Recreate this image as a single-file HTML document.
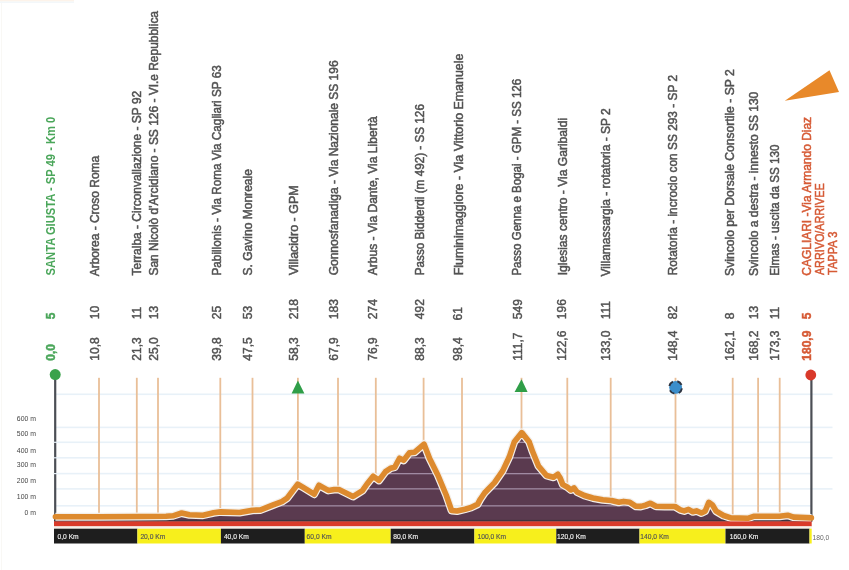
<!DOCTYPE html>
<html><head><meta charset="utf-8"><style>
html,body{margin:0;padding:0;background:#fff;}
body{width:849px;height:570px;overflow:hidden;}
svg{display:block;filter:blur(0.45px);}
text{font-family:"Liberation Sans", sans-serif;}
</style></head><body>
<svg width="849" height="570" viewBox="0 0 849 570">
<defs><clipPath id="fc"><path d="M55.4,516.8 L100.0,516.7 L140.0,516.5 L166.0,516.2 L173.0,515.8 L181.6,513.0 L189.5,514.8 L203.0,515.2 L213.6,512.8 L220.6,511.9 L239.5,512.5 L252.4,510.2 L260.7,509.9 L272.5,505.2 L281.9,501.6 L287.1,498.2 L291.8,491.8 L297.7,484.1 L303.6,487.7 L314.2,494.2 L318.9,485.3 L328.3,490.4 L334.2,489.5 L338.9,489.5 L346.0,493.0 L353.0,496.5 L362.4,490.6 L367.0,484.0 L373.2,476.2 L379.0,480.4 L385.5,471.6 L390.5,468.2 L394.7,467.2 L399.5,458.2 L403.7,460.3 L409.5,452.8 L414.7,452.2 L420.3,447.3 L424.0,444.1 L429.5,458.3 L437.8,475.0 L446.2,495.0 L451.6,510.5 L457.0,511.0 L465.0,509.2 L471.0,507.5 L477.5,504.3 L480.3,499.2 L484.7,492.7 L494.5,482.6 L502.8,470.6 L509.3,456.8 L514.2,442.1 L521.8,432.6 L529.3,442.1 L532.5,451.3 L538.5,466.0 L546.5,475.5 L553.5,477.3 L557.8,474.2 L560.2,478.0 L562.8,484.6 L567.2,487.0 L570.9,490.0 L574.0,487.9 L577.0,491.9 L584.4,495.5 L593.0,498.0 L602.8,499.8 L611.4,500.5 L618.8,502.3 L623.7,501.4 L629.9,502.3 L636.0,506.3 L640.9,506.4 L645.5,505.2 L650.4,503.2 L656.0,506.3 L664.6,506.5 L675.0,506.5 L680.5,509.9 L684.2,510.9 L688.5,509.3 L692.8,511.8 L696.5,510.9 L701.4,513.0 L705.1,511.2 L708.8,502.3 L712.5,505.0 L716.2,511.2 L723.5,515.5 L730.9,517.9 L747.7,518.3 L753.6,516.3 L765.3,516.3 L779.5,516.3 L787.7,515.2 L793.6,517.1 L811.4,517.9 L811.4,521.6 L55.4,521.6 Z"/></clipPath></defs>
<rect x="1" y="0" width="1" height="570" fill="#f9f8f5"/><rect x="0" y="0" width="74" height="1.5" fill="#fdf3ea"/><rect x="0" y="1.5" width="74" height="1.5" fill="#f3f7fa"/>

<rect x="56" y="393.5" width="776.5" height="1.6" fill="#e8f1f8"/>
<rect x="56" y="426.6" width="776.5" height="1.6" fill="#e8f1f8"/>
<rect x="56" y="441.5" width="756.0" height="1.6" fill="#e8f1f8"/>
<rect x="56" y="457.0" width="776.5" height="1.6" fill="#e8f1f8"/>
<rect x="56" y="472.8" width="756.0" height="1.6" fill="#e8f1f8"/>
<rect x="56" y="488.1" width="776.5" height="1.6" fill="#e8f1f8"/>
<rect x="56" y="505.0" width="756.0" height="1.6" fill="#e8f1f8"/>
<rect x="98.1" y="377.8" width="1.8" height="143.8" fill="#e9bf98"/>
<rect x="135.9" y="377.8" width="1.8" height="143.8" fill="#e9bf98"/>
<rect x="157.1" y="377.8" width="1.8" height="143.8" fill="#e9bf98"/>
<rect x="219.4" y="377.8" width="1.8" height="143.8" fill="#e9bf98"/>
<rect x="251.6" y="377.8" width="1.8" height="143.8" fill="#e9bf98"/>
<rect x="297.0" y="377.8" width="1.8" height="143.8" fill="#e9bf98"/>
<rect x="337.1" y="377.8" width="1.8" height="143.8" fill="#e9bf98"/>
<rect x="374.9" y="377.8" width="1.8" height="143.8" fill="#e9bf98"/>
<rect x="422.7" y="377.8" width="1.8" height="143.8" fill="#e9bf98"/>
<rect x="461.1" y="377.8" width="1.8" height="143.8" fill="#e9bf98"/>
<rect x="520.6" y="377.8" width="1.8" height="143.8" fill="#e9bf98"/>
<rect x="566.4" y="377.8" width="1.8" height="143.8" fill="#e9bf98"/>
<rect x="609.8" y="377.8" width="1.8" height="143.8" fill="#e9bf98"/>
<rect x="674.6" y="377.8" width="1.8" height="143.8" fill="#e9bf98"/>
<rect x="731.8" y="377.8" width="1.8" height="143.8" fill="#e9bf98"/>
<rect x="757.2" y="377.8" width="1.8" height="143.8" fill="#e9bf98"/>
<rect x="778.8" y="377.8" width="1.8" height="143.8" fill="#e9bf98"/>
<rect x="54.1" y="376" width="2.2" height="145.6" fill="#4b4e55"/>
<rect x="810.3" y="376" width="2.2" height="145.6" fill="#4b4e55"/>
<rect x="53.5" y="441.7" width="3.5" height="1.2" fill="#e8f1f8"/>
<rect x="53.5" y="457.2" width="3.5" height="1.2" fill="#e8f1f8"/>
<rect x="53.5" y="473.0" width="3.5" height="1.2" fill="#e8f1f8"/>
<path d="M55.4,516.8 L100.0,516.7 L140.0,516.5 L166.0,516.2 L173.0,515.8 L181.6,513.0 L189.5,514.8 L203.0,515.2 L213.6,512.8 L220.6,511.9 L239.5,512.5 L252.4,510.2 L260.7,509.9 L272.5,505.2 L281.9,501.6 L287.1,498.2 L291.8,491.8 L297.7,484.1 L303.6,487.7 L314.2,494.2 L318.9,485.3 L328.3,490.4 L334.2,489.5 L338.9,489.5 L346.0,493.0 L353.0,496.5 L362.4,490.6 L367.0,484.0 L373.2,476.2 L379.0,480.4 L385.5,471.6 L390.5,468.2 L394.7,467.2 L399.5,458.2 L403.7,460.3 L409.5,452.8 L414.7,452.2 L420.3,447.3 L424.0,444.1 L429.5,458.3 L437.8,475.0 L446.2,495.0 L451.6,510.5 L457.0,511.0 L465.0,509.2 L471.0,507.5 L477.5,504.3 L480.3,499.2 L484.7,492.7 L494.5,482.6 L502.8,470.6 L509.3,456.8 L514.2,442.1 L521.8,432.6 L529.3,442.1 L532.5,451.3 L538.5,466.0 L546.5,475.5 L553.5,477.3 L557.8,474.2 L560.2,478.0 L562.8,484.6 L567.2,487.0 L570.9,490.0 L574.0,487.9 L577.0,491.9 L584.4,495.5 L593.0,498.0 L602.8,499.8 L611.4,500.5 L618.8,502.3 L623.7,501.4 L629.9,502.3 L636.0,506.3 L640.9,506.4 L645.5,505.2 L650.4,503.2 L656.0,506.3 L664.6,506.5 L675.0,506.5 L680.5,509.9 L684.2,510.9 L688.5,509.3 L692.8,511.8 L696.5,510.9 L701.4,513.0 L705.1,511.2 L708.8,502.3 L712.5,505.0 L716.2,511.2 L723.5,515.5 L730.9,517.9 L747.7,518.3 L753.6,516.3 L765.3,516.3 L779.5,516.3 L787.7,515.2 L793.6,517.1 L811.4,517.9 L811.4,521.6 L55.4,521.6 Z" fill="#5a3a4f"/>
<g clip-path="url(#fc)">
<rect x="50" y="393.7" width="770" height="1.3" fill="#a08aa2"/>
<rect x="50" y="426.8" width="770" height="1.3" fill="#a08aa2"/>
<rect x="50" y="441.7" width="770" height="1.3" fill="#a08aa2"/>
<rect x="50" y="457.2" width="770" height="1.3" fill="#a08aa2"/>
<rect x="50" y="473.0" width="770" height="1.3" fill="#a08aa2"/>
<rect x="50" y="488.2" width="770" height="1.3" fill="#a08aa2"/>
<rect x="50" y="505.2" width="770" height="1.3" fill="#a08aa2"/>
</g>
<rect x="54" y="519.9" width="758" height="1.7" fill="#3d3540"/>
<path d="M55.4,516.8 L100.0,516.7 L140.0,516.5 L166.0,516.2 L173.0,515.8 L181.6,513.0 L189.5,514.8 L203.0,515.2 L213.6,512.8 L220.6,511.9 L239.5,512.5 L252.4,510.2 L260.7,509.9 L272.5,505.2 L281.9,501.6 L287.1,498.2 L291.8,491.8 L297.7,484.1 L303.6,487.7 L314.2,494.2 L318.9,485.3 L328.3,490.4 L334.2,489.5 L338.9,489.5 L346.0,493.0 L353.0,496.5 L362.4,490.6 L367.0,484.0 L373.2,476.2 L379.0,480.4 L385.5,471.6 L390.5,468.2 L394.7,467.2 L399.5,458.2 L403.7,460.3 L409.5,452.8 L414.7,452.2 L420.3,447.3 L424.0,444.1 L429.5,458.3 L437.8,475.0 L446.2,495.0 L451.6,510.5 L457.0,511.0 L465.0,509.2 L471.0,507.5 L477.5,504.3 L480.3,499.2 L484.7,492.7 L494.5,482.6 L502.8,470.6 L509.3,456.8 L514.2,442.1 L521.8,432.6 L529.3,442.1 L532.5,451.3 L538.5,466.0 L546.5,475.5 L553.5,477.3 L557.8,474.2 L560.2,478.0 L562.8,484.6 L567.2,487.0 L570.9,490.0 L574.0,487.9 L577.0,491.9 L584.4,495.5 L593.0,498.0 L602.8,499.8 L611.4,500.5 L618.8,502.3 L623.7,501.4 L629.9,502.3 L636.0,506.3 L640.9,506.4 L645.5,505.2 L650.4,503.2 L656.0,506.3 L664.6,506.5 L675.0,506.5 L680.5,509.9 L684.2,510.9 L688.5,509.3 L692.8,511.8 L696.5,510.9 L701.4,513.0 L705.1,511.2 L708.8,502.3 L712.5,505.0 L716.2,511.2 L723.5,515.5 L730.9,517.9 L747.7,518.3 L753.6,516.3 L765.3,516.3 L779.5,516.3 L787.7,515.2 L793.6,517.1 L811.4,517.9" fill="none" stroke="#f4efe9" stroke-width="8.0" stroke-linejoin="round" stroke-linecap="butt"/>
<path d="M55.4,516.8 L100.0,516.7 L140.0,516.5 L166.0,516.2 L173.0,515.8 L181.6,513.0 L189.5,514.8 L203.0,515.2 L213.6,512.8 L220.6,511.9 L239.5,512.5 L252.4,510.2 L260.7,509.9 L272.5,505.2 L281.9,501.6 L287.1,498.2 L291.8,491.8 L297.7,484.1 L303.6,487.7 L314.2,494.2 L318.9,485.3 L328.3,490.4 L334.2,489.5 L338.9,489.5 L346.0,493.0 L353.0,496.5 L362.4,490.6 L367.0,484.0 L373.2,476.2 L379.0,480.4 L385.5,471.6 L390.5,468.2 L394.7,467.2 L399.5,458.2 L403.7,460.3 L409.5,452.8 L414.7,452.2 L420.3,447.3 L424.0,444.1 L429.5,458.3 L437.8,475.0 L446.2,495.0 L451.6,510.5 L457.0,511.0 L465.0,509.2 L471.0,507.5 L477.5,504.3 L480.3,499.2 L484.7,492.7 L494.5,482.6 L502.8,470.6 L509.3,456.8 L514.2,442.1 L521.8,432.6 L529.3,442.1 L532.5,451.3 L538.5,466.0 L546.5,475.5 L553.5,477.3 L557.8,474.2 L560.2,478.0 L562.8,484.6 L567.2,487.0 L570.9,490.0 L574.0,487.9 L577.0,491.9 L584.4,495.5 L593.0,498.0 L602.8,499.8 L611.4,500.5 L618.8,502.3 L623.7,501.4 L629.9,502.3 L636.0,506.3 L640.9,506.4 L645.5,505.2 L650.4,503.2 L656.0,506.3 L664.6,506.5 L675.0,506.5 L680.5,509.9 L684.2,510.9 L688.5,509.3 L692.8,511.8 L696.5,510.9 L701.4,513.0 L705.1,511.2 L708.8,502.3 L712.5,505.0 L716.2,511.2 L723.5,515.5 L730.9,517.9 L747.7,518.3 L753.6,516.3 L765.3,516.3 L779.5,516.3 L787.7,515.2 L793.6,517.1 L811.4,517.9" fill="none" stroke="#dd8a2e" stroke-width="5.6" stroke-linejoin="round" stroke-linecap="round"/>
<rect x="54" y="521.4" width="757.7" height="5.0" fill="#d93b2a"/>
<rect x="54" y="526.4" width="757.7" height="2.3" fill="#f6f1ea"/>
<rect x="54" y="528.7" width="83.4" height="14.8" fill="#1e1e1e"/>
<text x="57.5" y="538.7" font-size="6.7" fill="#f0f0f0" stroke="#f0f0f0" stroke-width="0.15">0,0 Km</text>
<rect x="137.4" y="528.7" width="83.5" height="14.8" fill="#f7ef1c"/>
<text x="140.4" y="538.7" font-size="6.7" fill="#555" stroke="#555" stroke-width="0.15">20,0 Km</text>
<rect x="220.9" y="528.7" width="83.9" height="14.8" fill="#1e1e1e"/>
<text x="223.9" y="538.7" font-size="6.7" fill="#f0f0f0" stroke="#f0f0f0" stroke-width="0.15">40,0 Km</text>
<rect x="304.8" y="528.7" width="85.9" height="14.8" fill="#f7ef1c"/>
<text x="306.6" y="538.7" font-size="6.7" fill="#555" stroke="#555" stroke-width="0.15">60,0 Km</text>
<rect x="390.7" y="528.7" width="83.7" height="14.8" fill="#1e1e1e"/>
<text x="393.2" y="538.7" font-size="6.7" fill="#f0f0f0" stroke="#f0f0f0" stroke-width="0.15">80,0 Km</text>
<rect x="474.4" y="528.7" width="81.9" height="14.8" fill="#f7ef1c"/>
<text x="477.5" y="538.7" font-size="6.7" fill="#555" stroke="#555" stroke-width="0.15">100,0 Km</text>
<rect x="556.3" y="528.7" width="83.2" height="14.8" fill="#1e1e1e"/>
<text x="557.1" y="538.7" font-size="6.7" fill="#f0f0f0" stroke="#f0f0f0" stroke-width="0.15">120,0 Km</text>
<rect x="639.5" y="528.7" width="86.0" height="14.8" fill="#f7ef1c"/>
<text x="640.3" y="538.7" font-size="6.7" fill="#555" stroke="#555" stroke-width="0.15">140,0 Km</text>
<rect x="725.5" y="528.7" width="84.0" height="14.8" fill="#1e1e1e"/>
<text x="729.8" y="538.7" font-size="6.7" fill="#f0f0f0" stroke="#f0f0f0" stroke-width="0.15">160,0 Km</text>
<rect x="809.5" y="528.7" width="2.2" height="14.8" fill="#f7ef1c"/>
<text x="812.5" y="539.6" font-size="6.7" fill="#666">180,0</text>
<text x="36" y="421" font-size="6.9" fill="#454545" text-anchor="end">600 m</text>
<text x="36" y="435.8" font-size="6.9" fill="#454545" text-anchor="end">500 m</text>
<text x="36" y="452.6" font-size="6.9" fill="#454545" text-anchor="end">400 m</text>
<text x="36" y="467.4" font-size="6.9" fill="#454545" text-anchor="end">300 m</text>
<text x="36" y="483.3" font-size="6.9" fill="#454545" text-anchor="end">200 m</text>
<text x="36" y="498.5" font-size="6.9" fill="#454545" text-anchor="end">100 m</text>
<text x="36" y="515" font-size="6.9" fill="#454545" text-anchor="end">0 m</text>
<circle cx="55.2" cy="374.6" r="5.5" fill="#3aa24b"/>
<circle cx="810.8" cy="375" r="5.4" fill="#d9392a"/>
<path d="M297.9,380.6 L304.4,393.6 L291.6,393.6 Z" fill="#2f9e48"/>
<path d="M521.5,379.2 L527.6,392.0 L514.6,392.0 Z" fill="#2f9e48"/>
<circle cx="675.6" cy="387.4" r="6.4" fill="#3b8ecb" stroke="#2e3440" stroke-width="1.9" stroke-dasharray="5.5 4.55" stroke-dashoffset="-1"/>
<path d="M829.5,70.3 L839,91.9 L784.8,100.8 Z" fill="#e8892a"/>
<text transform="translate(54.6,275.4) rotate(-90)" font-size="12.0" font-weight="bold" fill="#4aa65a" stroke="#4aa65a" stroke-width="0" textLength="158.7" lengthAdjust="spacingAndGlyphs">SANTA GIUSTA - SP 49 - Km 0</text>
<text transform="translate(55.3,319.2) rotate(-90)" font-size="12.0" font-weight="bold" fill="#4aa65a" stroke="#4aa65a" stroke-width="0.45">5</text>
<text transform="translate(55.3,360.7) rotate(-90)" font-size="12.0" font-weight="bold" fill="#4aa65a" stroke="#4aa65a" stroke-width="0.45">0,0</text>
<text transform="translate(99.0,276.3) rotate(-90)" font-size="12.0" font-weight="normal" fill="#525252" stroke="#525252" stroke-width="0.5" textLength="120.5" lengthAdjust="spacingAndGlyphs">Arborea - Croso Roma</text>
<text transform="translate(99.0,319.2) rotate(-90)" font-size="12.0" font-weight="normal" fill="#525252" stroke="#525252" stroke-width="0.45">10</text>
<text transform="translate(99.0,360.7) rotate(-90)" font-size="12.0" font-weight="normal" fill="#525252" stroke="#525252" stroke-width="0.45">10,8</text>
<text transform="translate(141.3,275.5) rotate(-90)" font-size="12.0" font-weight="normal" fill="#525252" stroke="#525252" stroke-width="0.5" textLength="184.7" lengthAdjust="spacingAndGlyphs">Terralba - Circonvallazione - SP 92</text>
<text transform="translate(141.3,319.2) rotate(-90)" font-size="12.0" font-weight="normal" fill="#525252" stroke="#525252" stroke-width="0.45">11</text>
<text transform="translate(141.3,360.7) rotate(-90)" font-size="12.0" font-weight="normal" fill="#525252" stroke="#525252" stroke-width="0.45">21,3</text>
<text transform="translate(158.0,275.5) rotate(-90)" font-size="12.0" font-weight="normal" fill="#525252" stroke="#525252" stroke-width="0.5" textLength="264.5" lengthAdjust="spacingAndGlyphs">San Nicolò d'Arcidiano - SS 126 - VI.e Repubblica</text>
<text transform="translate(158.0,319.2) rotate(-90)" font-size="12.0" font-weight="normal" fill="#525252" stroke="#525252" stroke-width="0.45">13</text>
<text transform="translate(158.0,360.7) rotate(-90)" font-size="12.0" font-weight="normal" fill="#525252" stroke="#525252" stroke-width="0.45">25,0</text>
<text transform="translate(221.3,275.5) rotate(-90)" font-size="12.0" font-weight="normal" fill="#525252" stroke="#525252" stroke-width="0.5" textLength="210.2" lengthAdjust="spacingAndGlyphs">Pabillonis - Via Roma Via Cagliari SP 63</text>
<text transform="translate(221.3,319.2) rotate(-90)" font-size="12.0" font-weight="normal" fill="#525252" stroke="#525252" stroke-width="0.45">25</text>
<text transform="translate(221.3,360.7) rotate(-90)" font-size="12.0" font-weight="normal" fill="#525252" stroke="#525252" stroke-width="0.45">39,8</text>
<text transform="translate(251.5,275.5) rotate(-90)" font-size="12.0" font-weight="normal" fill="#525252" stroke="#525252" stroke-width="0.5" textLength="106.4" lengthAdjust="spacingAndGlyphs">S. Gavino Monreale</text>
<text transform="translate(251.5,319.2) rotate(-90)" font-size="12.0" font-weight="normal" fill="#525252" stroke="#525252" stroke-width="0.45">53</text>
<text transform="translate(251.5,360.7) rotate(-90)" font-size="12.0" font-weight="normal" fill="#525252" stroke="#525252" stroke-width="0.45">47,5</text>
<text transform="translate(298.2,275.3) rotate(-90)" font-size="12.0" font-weight="normal" fill="#525252" stroke="#525252" stroke-width="0.5" textLength="90.0" lengthAdjust="spacingAndGlyphs">Villacidro - GPM</text>
<text transform="translate(298.2,319.2) rotate(-90)" font-size="12.0" font-weight="normal" fill="#525252" stroke="#525252" stroke-width="0.45">218</text>
<text transform="translate(298.2,360.7) rotate(-90)" font-size="12.0" font-weight="normal" fill="#525252" stroke="#525252" stroke-width="0.45">58,3</text>
<text transform="translate(338.3,275.3) rotate(-90)" font-size="12.0" font-weight="normal" fill="#525252" stroke="#525252" stroke-width="0.5" textLength="214.9" lengthAdjust="spacingAndGlyphs">Gonnosfanadiga - Via Nazionale SS 196</text>
<text transform="translate(338.3,319.2) rotate(-90)" font-size="12.0" font-weight="normal" fill="#525252" stroke="#525252" stroke-width="0.45">183</text>
<text transform="translate(338.3,360.7) rotate(-90)" font-size="12.0" font-weight="normal" fill="#525252" stroke="#525252" stroke-width="0.45">67,9</text>
<text transform="translate(376.5,275.3) rotate(-90)" font-size="12.0" font-weight="normal" fill="#525252" stroke="#525252" stroke-width="0.5" textLength="159.0" lengthAdjust="spacingAndGlyphs">Arbus - Via Dante, Via Libertà</text>
<text transform="translate(376.5,319.2) rotate(-90)" font-size="12.0" font-weight="normal" fill="#525252" stroke="#525252" stroke-width="0.45">274</text>
<text transform="translate(376.5,360.7) rotate(-90)" font-size="12.0" font-weight="normal" fill="#525252" stroke="#525252" stroke-width="0.45">76,9</text>
<text transform="translate(423.6,275.3) rotate(-90)" font-size="12.0" font-weight="normal" fill="#525252" stroke="#525252" stroke-width="0.5" textLength="171.2" lengthAdjust="spacingAndGlyphs">Passo Bidderdi (m 492) - SS 126</text>
<text transform="translate(423.6,319.2) rotate(-90)" font-size="12.0" font-weight="normal" fill="#525252" stroke="#525252" stroke-width="0.45">492</text>
<text transform="translate(423.6,360.7) rotate(-90)" font-size="12.0" font-weight="normal" fill="#525252" stroke="#525252" stroke-width="0.45">88,3</text>
<text transform="translate(462.6,275.3) rotate(-90)" font-size="12.0" font-weight="normal" fill="#525252" stroke="#525252" stroke-width="0.5" textLength="221.7" lengthAdjust="spacingAndGlyphs">Fluminimaggiore - Via Vittorio Emanuele</text>
<text transform="translate(461.9,320.5) rotate(-90)" font-size="12.0" font-weight="normal" fill="#525252" stroke="#525252" stroke-width="0.45">61</text>
<text transform="translate(461.9,360.7) rotate(-90)" font-size="12.0" font-weight="normal" fill="#525252" stroke="#525252" stroke-width="0.45">98,4</text>
<text transform="translate(521.4,275.6) rotate(-90)" font-size="12.0" font-weight="normal" fill="#525252" stroke="#525252" stroke-width="0.5" textLength="196.8" lengthAdjust="spacingAndGlyphs">Passo Genna e Bogai - GPM - SS 126</text>
<text transform="translate(522.4,319.2) rotate(-90)" font-size="12.0" font-weight="normal" fill="#525252" stroke="#525252" stroke-width="0.45">549</text>
<text transform="translate(522.4,360.7) rotate(-90)" font-size="12.0" font-weight="normal" fill="#525252" stroke="#525252" stroke-width="0.45">111,7</text>
<text transform="translate(567.2,275.3) rotate(-90)" font-size="12.0" font-weight="normal" fill="#525252" stroke="#525252" stroke-width="0.5" textLength="157.4" lengthAdjust="spacingAndGlyphs">Iglesias centro - Via Garibaldi</text>
<text transform="translate(566.3,319.2) rotate(-90)" font-size="12.0" font-weight="normal" fill="#525252" stroke="#525252" stroke-width="0.45">196</text>
<text transform="translate(566.3,360.7) rotate(-90)" font-size="12.0" font-weight="normal" fill="#525252" stroke="#525252" stroke-width="0.45">122,6</text>
<text transform="translate(610.1,276.5) rotate(-90)" font-size="12.0" font-weight="normal" fill="#525252" stroke="#525252" stroke-width="0.5" textLength="168.2" lengthAdjust="spacingAndGlyphs">Villamassargia - rotatoria - SP 2</text>
<text transform="translate(610.1,319.2) rotate(-90)" font-size="12.0" font-weight="normal" fill="#525252" stroke="#525252" stroke-width="0.45">111</text>
<text transform="translate(610.1,360.7) rotate(-90)" font-size="12.0" font-weight="normal" fill="#525252" stroke="#525252" stroke-width="0.45">133,0</text>
<text transform="translate(676.6,275.3) rotate(-90)" font-size="12.0" font-weight="normal" fill="#525252" stroke="#525252" stroke-width="0.5" textLength="200.3" lengthAdjust="spacingAndGlyphs">Rotatoria - incrocio con SS 293 - SP 2</text>
<text transform="translate(676.6,319.2) rotate(-90)" font-size="12.0" font-weight="normal" fill="#525252" stroke="#525252" stroke-width="0.45">82</text>
<text transform="translate(676.6,360.7) rotate(-90)" font-size="12.0" font-weight="normal" fill="#525252" stroke="#525252" stroke-width="0.45">148,4</text>
<text transform="translate(733.6,275.9) rotate(-90)" font-size="12.0" font-weight="normal" fill="#525252" stroke="#525252" stroke-width="0.5" textLength="206.6" lengthAdjust="spacingAndGlyphs">Svincolo per Dorsale Consortile - SP 2</text>
<text transform="translate(733.6,319.2) rotate(-90)" font-size="12.0" font-weight="normal" fill="#525252" stroke="#525252" stroke-width="0.45">8</text>
<text transform="translate(733.6,360.7) rotate(-90)" font-size="12.0" font-weight="normal" fill="#525252" stroke="#525252" stroke-width="0.45">162,1</text>
<text transform="translate(758.1,275.9) rotate(-90)" font-size="12.0" font-weight="normal" fill="#525252" stroke="#525252" stroke-width="0.5" textLength="184.2" lengthAdjust="spacingAndGlyphs">Svincolo a destra - innesto SS 130</text>
<text transform="translate(758.1,319.2) rotate(-90)" font-size="12.0" font-weight="normal" fill="#525252" stroke="#525252" stroke-width="0.45">13</text>
<text transform="translate(758.1,360.7) rotate(-90)" font-size="12.0" font-weight="normal" fill="#525252" stroke="#525252" stroke-width="0.45">168,2</text>
<text transform="translate(779.2,275.8) rotate(-90)" font-size="12.0" font-weight="normal" fill="#525252" stroke="#525252" stroke-width="0.5" textLength="131.3" lengthAdjust="spacingAndGlyphs">Elmas - uscita da SS 130</text>
<text transform="translate(779.2,319.2) rotate(-90)" font-size="12.0" font-weight="normal" fill="#525252" stroke="#525252" stroke-width="0.45">11</text>
<text transform="translate(779.2,360.7) rotate(-90)" font-size="12.0" font-weight="normal" fill="#525252" stroke="#525252" stroke-width="0.45">173,3</text>
<text transform="translate(810.5,275.7) rotate(-90)" font-size="12.0" font-weight="normal" fill="#d65a35" stroke="#d65a35" stroke-width="0.5" textLength="158.8" lengthAdjust="spacingAndGlyphs">CAGLIARI -Via Armando Diaz</text>
<text transform="translate(810.5,319.2) rotate(-90)" font-size="12.0" font-weight="bold" fill="#d65a35" stroke="#d65a35" stroke-width="0.45">5</text>
<text transform="translate(810.5,360.7) rotate(-90)" font-size="12.0" font-weight="bold" fill="#d65a35" stroke="#d65a35" stroke-width="0.45">180,9</text>
<text transform="translate(824.3,275.1) rotate(-90)" font-size="12.0" font-weight="normal" fill="#d65a35" stroke="#d65a35" stroke-width="0.5" textLength="91.8" lengthAdjust="spacingAndGlyphs">ARRIVO/ARRIVEE</text>
<text transform="translate(837.0,275.0) rotate(-90)" font-size="12.0" font-weight="normal" fill="#d65a35" stroke="#d65a35" stroke-width="0.5" textLength="43.4" lengthAdjust="spacingAndGlyphs">TAPPA 3</text>
</svg></body></html>
